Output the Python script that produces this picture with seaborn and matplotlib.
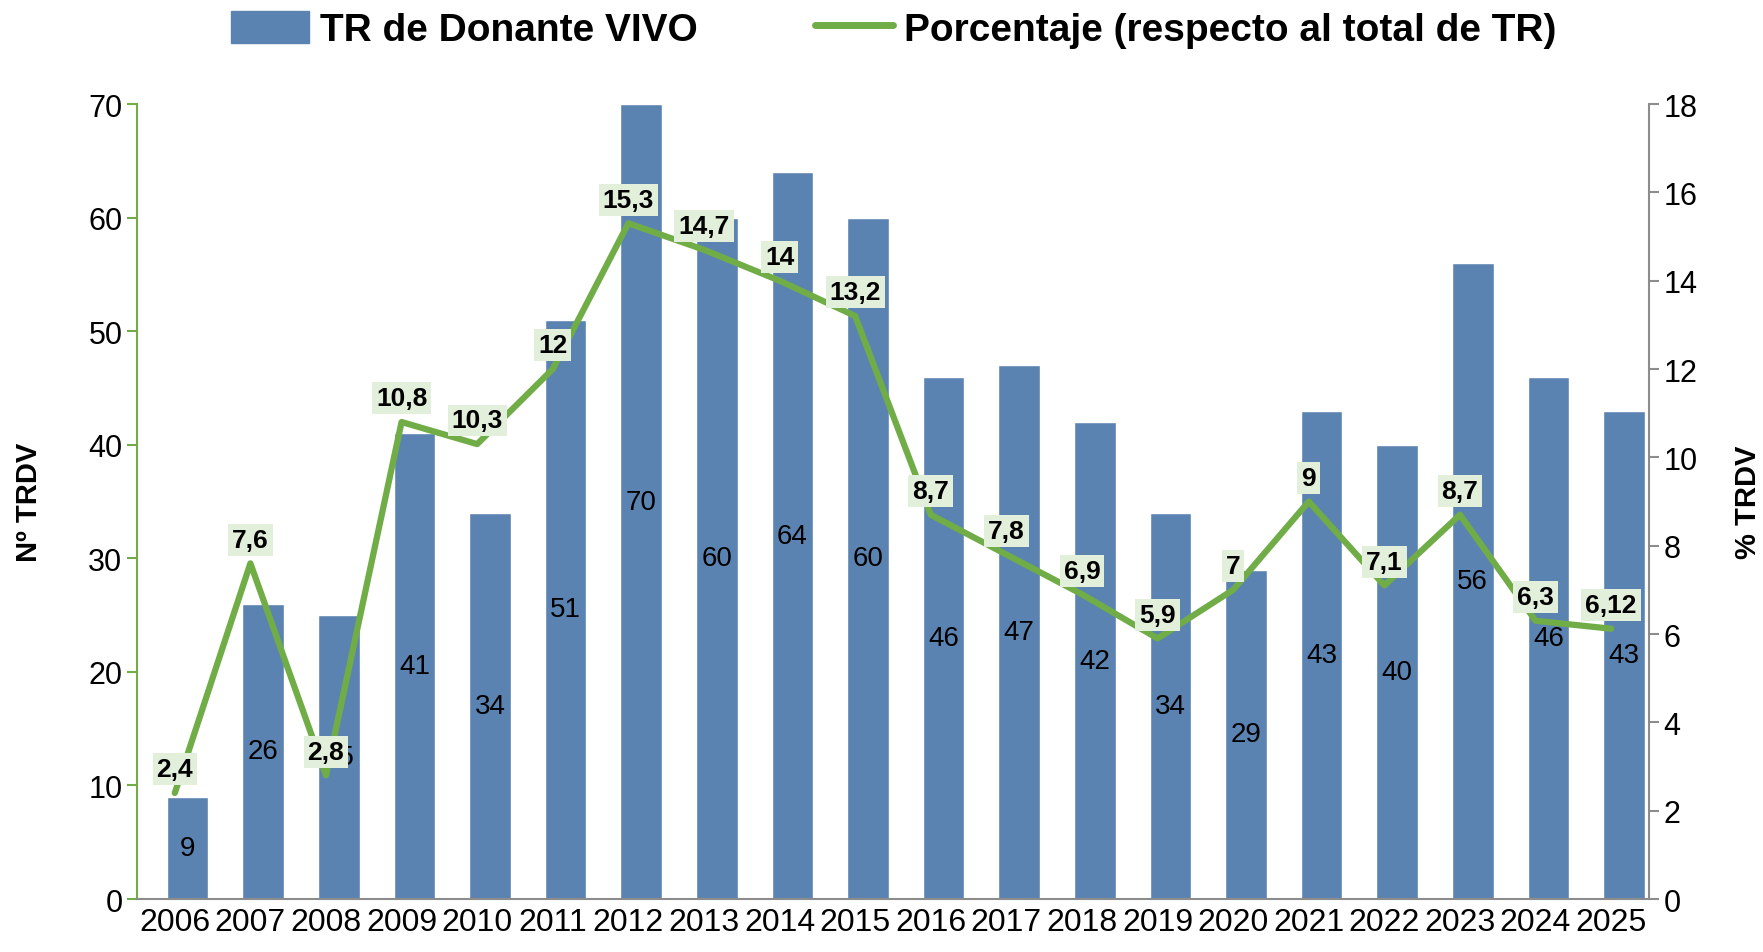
import numpy as np
import pandas as pd
import seaborn as sns
import matplotlib.pyplot as plt
from matplotlib.patches import Patch
from matplotlib.lines import Line2D

years = [str(y) for y in range(2006, 2026)]
trdv = [9, 26, 25, 41, 34, 51, 70, 60, 64, 60, 46, 47, 42, 34, 29, 43, 40, 56, 46, 43]
pct = [2.4, 7.6, 2.8, 10.8, 10.3, 12, 15.3, 14.7, 14, 13.2, 8.7, 7.8, 6.9, 5.9, 7,
       9, 7.1, 8.7, 6.3, 6.12]
pct_labels = ["2,4", "7,6", "2,8", "10,8", "10,3", "12", "15,3", "14,7", "14", "13,2",
              "8,7", "7,8", "6,9", "5,9", "7", "9", "7,1", "8,7", "6,3", "6,12"]

BAR = "#5B83B1"
GREEN = "#70AD47"
GRAY = "#8C8C8C"
SHIFT = 0.17  # bars sit slightly right of the category centre in the original

sns.set_style("white", {"text.color": "black", "axes.labelcolor": "black",
                        "xtick.color": "black", "ytick.color": "black"})
plt.rcParams["font.family"] = ["Liberation Sans", "DejaVu Sans"]

df = pd.DataFrame({"year": years, "trdv": trdv, "pct": pct})

fig = plt.figure(figsize=(17.63, 9.53), dpi=100)
ax = fig.add_axes([0.0777, 0.0556, 0.8576, 0.8342])
sns.barplot(data=df, x="year", y="trdv", color=BAR, saturation=1, width=0.55, ax=ax)
ax.bar_label(ax.containers[0], labels=[str(v) for v in trdv], label_type="center",
             fontsize=20, color="black")

n = len(years)
centers = np.arange(n) - SHIFT
ax.set_xlim(-0.5 - SHIFT, n - 0.5 - SHIFT)
ax.set_ylim(0, 70)
ax.set_yticks(range(0, 71, 10))
ax.set_xticks(centers, labels=years)
ax.set_xticks(np.arange(n + 1) - 0.5 - SHIFT, minor=True)
ax.tick_params(axis="x", which="major", length=0, labelsize=23, pad=6, labelcolor="black")
ax.tick_params(axis="x", which="minor", length=8, width=1.5, color=GRAY, direction="out")
ax.tick_params(axis="y", length=7, width=1.5, color=GREEN, labelsize=22, direction="out",
               labelcolor="black")
ax.set_xlabel("")
ax.set_ylabel("Nº TRDV", fontsize=21, fontweight="bold", color="black")
ax.yaxis.set_label_coords(-0.062, 0.5)
for s in ["top", "right"]:
    ax.spines[s].set_visible(False)
ax.spines["left"].set_color(GREEN)
ax.spines["left"].set_linewidth(1.5)
ax.spines["bottom"].set_color(GRAY)
ax.spines["bottom"].set_linewidth(1.5)

ax2 = ax.twinx()
sns.lineplot(x=centers, y=pct, color=GREEN, linewidth=4.5, ax=ax2)
ax2.set_ylim(0, 18)
ax2.set_yticks(range(0, 19, 2))
ax2.tick_params(axis="y", length=7, width=1.5, color=GRAY, labelsize=22, direction="out",
                labelcolor="black")
ax2.set_ylabel("% TRDV", fontsize=21, fontweight="bold", rotation=90, color="black")
ax2.yaxis.set_label_coords(1.056, 0.5)
for s in ["top", "left", "bottom"]:
    ax2.spines[s].set_visible(False)
ax2.spines["right"].set_color(GRAY)
ax2.spines["right"].set_linewidth(1.5)

for xc, v, lab in zip(centers, pct, pct_labels):
    ax2.annotate(lab, (xc, v), xytext=(0, 17), textcoords="offset points",
                 ha="center", va="center", fontsize=19, fontweight="bold", color="black",
                 bbox=dict(boxstyle="square,pad=0.15", fc="#E2EFDA", ec="none"))

handles = [Patch(color=BAR), Line2D([0], [0], color=GREEN, linewidth=5)]
fig.legend(handles, ["TR de Donante VIVO", "Porcentaje (respecto al total de TR)"],
           loc="center", bbox_to_anchor=(0.507, 0.968), ncol=2, frameon=False,
           prop={"size": 28, "weight": "bold"}, columnspacing=3, handlelength=2.0,
           handleheight=0.9, handletextpad=0.3, labelcolor="black")

fig.savefig("out.png", dpi=100)
